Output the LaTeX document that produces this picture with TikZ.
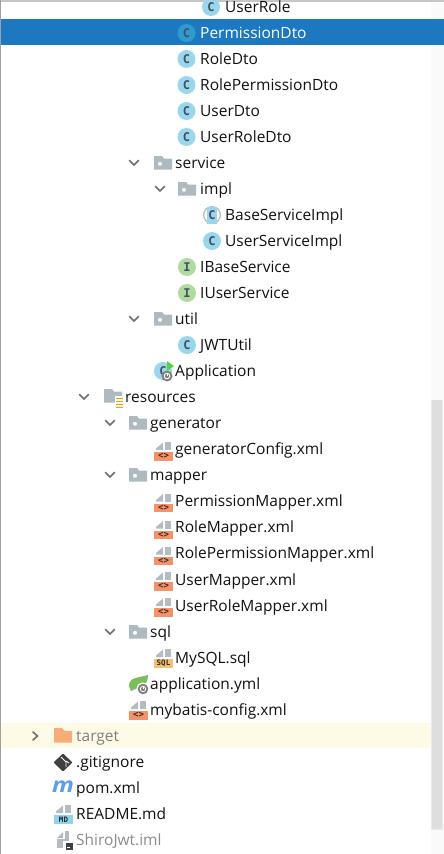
\documentclass[tikz,border=0pt]{standalone}
\usepackage{fontspec}
\setmainfont{Open Sans}
\newfontfamily\monob{DejaVu Sans Mono}
\definecolor{ctext}{HTML}{111111}
\definecolor{cblue}{HTML}{9AD7EE}
\definecolor{cletter}{HTML}{40525C}
\definecolor{cgreen}{HTML}{B0DBA0}
\definecolor{cfolder}{HTML}{AEB9C0}
\definecolor{cxml}{HTML}{F4936A}
\definecolor{csel}{HTML}{1C78C0}
\definecolor{cselc}{HTML}{2E9AD0}
\definecolor{chev}{HTML}{6E6E6E}
\definecolor{cdoc}{HTML}{B4BCC2}
\definecolor{cspring}{HTML}{7CBF5A}
\definecolor{csql}{HTML}{F2C078}
\definecolor{cmd}{HTML}{8FD3EC}
\definecolor{corange}{HTML}{F7AC7A}
\definecolor{cyellow}{HTML}{FDFBE6}
\definecolor{cbar}{HTML}{DEDEDE}
\definecolor{cedge}{HTML}{A0A0A0}
\tikzset{
  x=1pt,y=-1pt,
  lblbase/.style={anchor=base west,inner sep=0pt,font=\fontsize{15.5}{17}\selectfont,text=ctext},
  chevline/.style={draw=chev,line width=1.6pt,line cap=round,line join=miter},
  cletterstyle/.style={inner sep=0pt,text=cletter,font=\monob\bfseries\fontsize{12}{13}\selectfont},
}
\newcommand{\rowlabel}[5][ctext]{\node[lblbase,text=#1] (#2) at (#3,#4+5) {#5};}
\newcommand{\chevd}[2]{\draw[chevline] (#1-4.5,#2-2.5) -- (#1,#2+2) -- (#1+4.5,#2-2.5);}
\newcommand{\folderbase}[2]{%
  \fill[cfolder] (#1,#2-7) -- (#1+8,#2-7) -- (#1+10,#2-4.5) -- (#1+18,#2-4.5) -- (#1+18,#2+6.5) -- (#1,#2+6.5) -- cycle;}
\newcommand{\folder}[2]{\folderbase{#1}{#2}\fill[white] (#1+6,#2+0.8) circle (2);}
\newcommand{\cicon}[2]{%
  \fill[cblue] (#1,#2) circle (9);
  \node[cletterstyle] at (#1,#2) {C};}
\newcommand{\iicon}[2]{%
  \fill[cgreen] (#1,#2) circle (9);
  \node[cletterstyle] at (#1,#2) {I};}
\newcommand{\docbase}[2]{%
  \fill[cdoc] (#1+2,#2-1) -- (#1+2,#2-2.5) -- (#1+9,#2-8.5) -- (#1+9,#2-1) -- cycle;
  \fill[cdoc] (#1+10.5,#2-9) rectangle (#1+17,#2-1);}
\newcommand{\xmlicon}[2]{%
  \docbase{#1}{#2}
  \fill[cxml] (#1,#2+1) rectangle (#1+19,#2+9.5);
  \node[inner sep=0pt,text=black!75!cxml,font=\monob\bfseries\fontsize{9}{10}\selectfont] at (#1+9.5,#2+5) {<>};}
\begin{document}
\begin{tikzpicture}
\useasboundingbox (0,0) rectangle (444,854);
\fill[white] (0,0) rectangle (444,854);
\fill[cedge!60] (0,0) rectangle (444,1.5);
\fill[cedge] (0,0) rectangle (1,854);
\fill[csel] (1,19) rectangle (444,45);
\fill[cyellow] (1,723) rectangle (431,748);
% scrollbar
\fill[black!2] (431,2) rectangle (444,854);
\fill[csel] (431,19) rectangle (444,45);
\fill[cbar] (431,400) rectangle (442,829);
\draw[black!8,line width=0.8pt] (431.4,400) -- (431.4,829.5) -- (442.6,829.5) -- (442.6,400);
% rows
\cicon{211}{7} \rowlabel{t1}{225}{7}{UserRole}
\fill[cselc] (186.5,33) circle (9);
\node[cletterstyle] at (186.5,33) {C};
\rowlabel[white]{t2}{200}{33}{PermissionDto}
\cicon{186.5}{59} \rowlabel{t3}{200}{59}{RoleDto}
\cicon{186.5}{85} \rowlabel{t4}{200}{85}{RolePermissionDto}
\cicon{186.5}{111} \rowlabel{t5}{200}{111}{UserDto}
\cicon{186.5}{137} \rowlabel{t6}{200}{137}{UserRoleDto}
\chevd{134}{163} \folder{154}{163} \rowlabel{t7}{175}{163}{service}
\chevd{160}{189} \folder{178}{189} \rowlabel{t8}{200}{189}{impl}
\fill[cdoc] (212,215) circle (9);
\fill[white] (212,215) circle (7.6);
\fill[cblue] (207,206.5) rectangle (216.5,223.5);
\node[cletterstyle] at (212,215) {C};
\rowlabel{t9}{225}{215}{BaseServiceImpl}
\cicon{212}{241} \rowlabel{t10}{225}{241}{UserServiceImpl}
\iicon{187}{267} \rowlabel{t11}{200}{267}{IBaseService}
\iicon{187}{293} \rowlabel{t12}{200}{293}{IUserService}
\chevd{134}{319} \folder{154}{319} \rowlabel{t13}{175}{319}{util}
\cicon{187}{345} \rowlabel{t14}{200}{345}{JWTUtil}
% Application
\cicon{163}{371}
\fill[cedge!80!black] (167,376) circle (5.5);
\draw[white,line width=0.9pt] (167,376) circle (2.8);
\draw[white,line width=0.9pt] (167,372.5) -- (167,376);
\fill[cspring!70!green] (167,361) -- (174,366) -- (167,371) -- cycle;
\rowlabel{t15}{175}{371}{Application}
% resources
\chevd{84}{397} \folderbase{104}{396}
\fill[white] (115,396) rectangle (124,408);
\foreach \yy in {398,401,404,407} \draw[orange!80!yellow,line width=0.9pt] (116,\yy) -- (123,\yy);
\rowlabel{t16}{125}{397}{resources}
\chevd{110}{423} \folder{129}{423} \rowlabel{t17}{150}{423}{generator}
\xmlicon{154}{451} \rowlabel{t18}{175}{449}{generatorConfig.xml}
\chevd{110}{475} \folder{129}{475} \rowlabel{t19}{150}{475}{mapper}
\xmlicon{154}{502.5} \rowlabel{t20}{175}{501}{PermissionMapper.xml}
\xmlicon{154}{529.5} \rowlabel{t21}{175}{527}{RoleMapper.xml}
\xmlicon{154}{555.5} \rowlabel{t22}{175}{553}{RolePermissionMapper.xml}
\xmlicon{154}{581} \rowlabel{t23}{175}{580}{UserMapper.xml}
\xmlicon{154}{607} \rowlabel{t24}{175}{606}{UserRoleMapper.xml}
\chevd{110}{632} \folder{129}{632} \rowlabel{t25}{150}{632}{sql}
\docbase{154}{658}
\fill[csql] (154,659) rectangle (173,667.5);
\node[inner sep=0pt,text=black!80!csql,font=\monob\bfseries\fontsize{7.5}{8}\selectfont] at (163.5,663.3) {SQL};
\rowlabel{t26}{175}{658}{MySQL.sql}
% spring
\fill[cspring] (129,686) .. controls (129,677) and (138,678) .. (148,675) .. controls (148,681) and (146,685) .. (140,687) .. controls (136,689) and (133,690) .. (131,691) -- cycle;
\fill[white] (143,689) circle (6.5);
\fill[cedge!80!black] (143,689) circle (5.3);
\draw[white,line width=0.8pt] (143,689) circle (2.7);
\draw[white,line width=0.8pt] (143,685.5) -- (143,689);
\rowlabel{t27}{150}{684}{application.yml}
\xmlicon{129}{710} \rowlabel{t28}{150}{710}{mybatis-config.xml}
% target
\draw[chevline] (33,732) -- (37.5,736) -- (33,740);
\fill[corange] (54,728) -- (62,728) -- (65,731) -- (72,731) -- (72,742.5) -- (54,742.5) -- cycle;
\rowlabel[black!50]{t29}{76}{736}{target}
% gitignore
\fill[black!75,rounded corners=1pt] (63,753.5) -- (72.5,762.5) -- (63,771.5) -- (53.5,762.5) -- cycle;
\draw[white,line width=0.9pt] (61,757) -- (66,762) -- (66,767);
\draw[white,line width=0.9pt] (66,761) -- (69,763);
\rowlabel{t30}{76}{762}{.gitignore}
% pom
\node[inner sep=0pt,text=cmd!70!blue!90!cyan,font=\bfseries\itshape\fontsize{21}{22}\selectfont,xscale=1.15] at (63,786.5) {m};
\rowlabel{t31}{76}{788}{pom.xml}
% readme
\docbase{54}{814}
\fill[cmd] (54,815) rectangle (73,823.5);
\node[inner sep=0pt,text=black!80!cmd,font=\monob\bfseries\fontsize{7.5}{8}\selectfont] at (63.5,819.3) {MD};
\rowlabel{t32}{76}{814}{README.md}
% iml
\fill[cdoc] (57,838) -- (63,832) -- (63,838) -- cycle;
\fill[cdoc] (57,839) rectangle (66,848);
\fill[cdoc] (65,831) rectangle (69,841);
\fill[white] (63,841) rectangle (74,850);
\fill[black!75] (65.5,842.5) rectangle (73,849.5);
\fill[white] (67,846.5) rectangle (70,847.5);
\rowlabel[black!45]{t33}{76}{840}{ShiroJwt.iml}
\end{tikzpicture}
\end{document}
